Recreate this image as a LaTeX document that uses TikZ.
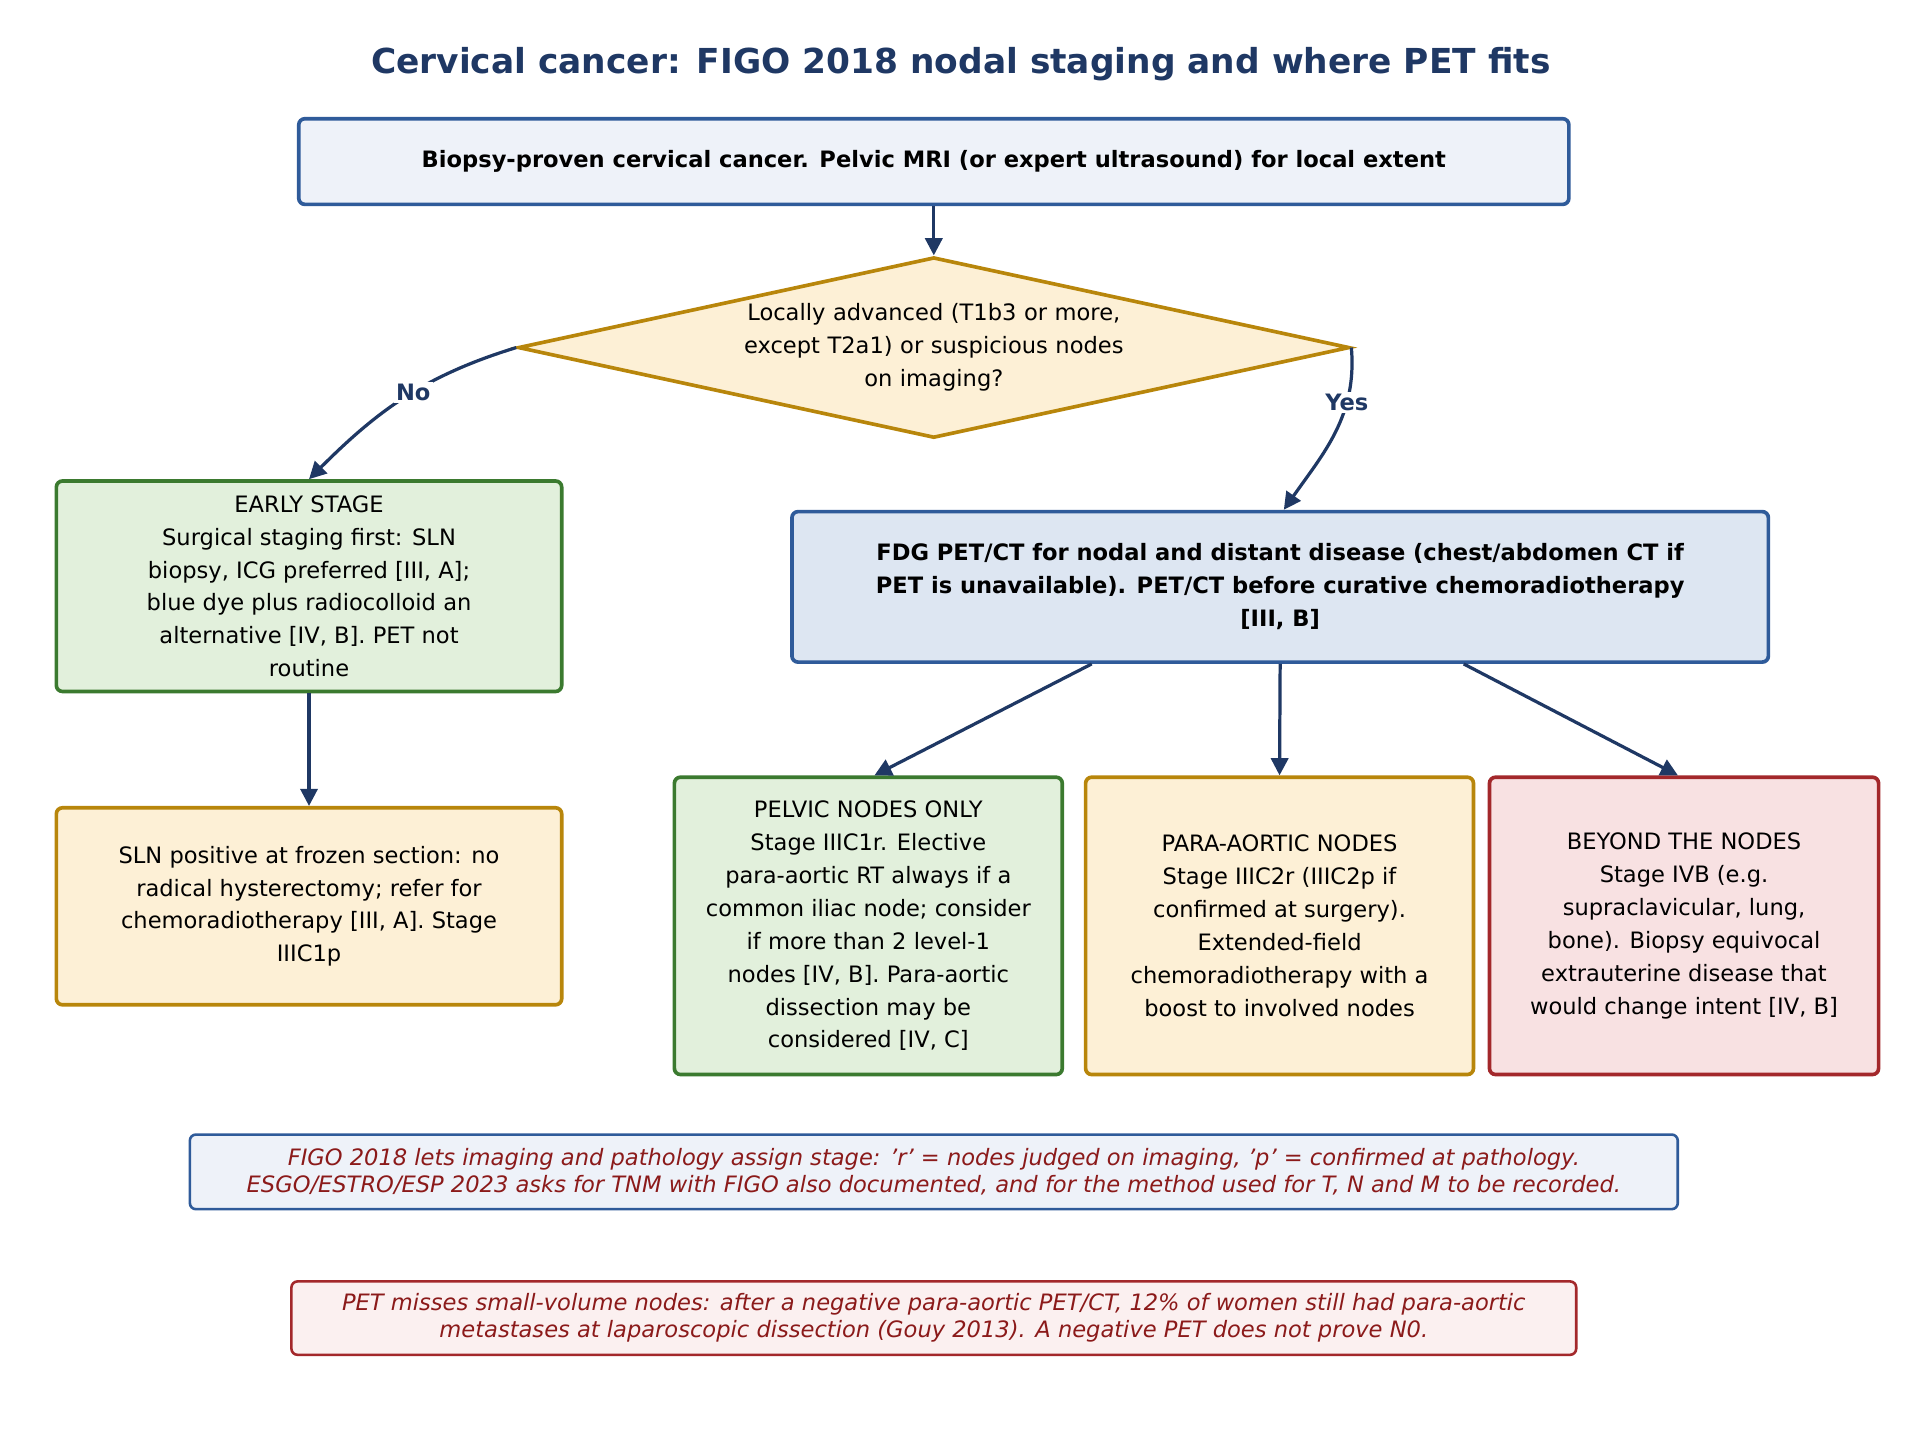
\documentclass[tikz,border=0pt]{standalone}
\usepackage{fontspec}
\setmainfont{DejaVu Sans}
\usetikzlibrary{shapes.geometric,arrows.meta}
\definecolor{navy}{HTML}{1F3864}
\definecolor{bluebd}{HTML}{2F5B9A}
\definecolor{bluefill}{HTML}{EEF2F9}
\definecolor{fdgfill}{HTML}{DDE6F2}
\definecolor{goldbd}{HTML}{B8860B}
\definecolor{goldfill}{HTML}{FDF0D6}
\definecolor{greenbd}{HTML}{3B7A2F}
\definecolor{greenfill}{HTML}{E2F0DC}
\definecolor{redbd}{HTML}{A3282B}
\definecolor{redfill}{HTML}{F8E1E2}
\definecolor{notefill}{HTML}{FBF0F0}
\definecolor{notetext}{HTML}{8B1A1A}
\tikzset{
  box/.style={draw, line width=1.7pt, rounded corners=0.1cm, align=center,
    font=\fontsize{10.5}{15.3}\selectfont, inner sep=0pt},
  bluebox/.style={box, draw=bluebd, fill=bluefill},
  greenbox/.style={box, draw=greenbd, fill=greenfill},
  goldbox/.style={box, draw=goldbd, fill=goldfill},
  redbox/.style={box, draw=redbd, fill=redfill},
  note/.style={draw, line width=1.2pt, rounded corners=0.1cm, align=center,
    text=notetext, font=\fontsize{10.5}{12.5}\selectfont\itshape},
  flow/.style={-{Triangle[length=8pt,width=8pt]}, line width=1.5pt, draw=navy},
  lbl/.style={fill=white, text=navy, font=\fontsize{10.5}{12}\selectfont\bfseries, inner sep=1pt}
}
\begin{document}
\begin{tikzpicture}[x=0.02cm,y=-0.02cm]
    \useasboundingbox (0,0) rectangle (1568,1171);

    % Title
    \node[text=navy, font=\fontsize{16}{19}\selectfont\bfseries] (title) at (785,52)
      {Cervical cancer: FIGO 2018 nodal staging and where PET fits};

    % Top box and decision
    \node[bluebox, minimum width=20.76cm, minimum height=1.4cm, font=\fontsize{10.5}{15.3}\selectfont\bfseries] (mri) at (763,132)
      {Biopsy-proven cervical cancer. Pelvic MRI (or expert ultrasound) for local extent};
    \node[diamond, aspect=4.6, draw=goldbd, fill=goldfill, line width=1.7pt, inner sep=0pt,
      text width=7cm, minimum height=1.4cm, align=center, font=\fontsize{10.5}{15.3}\selectfont] (adv) at (763,284)
      {Locally advanced (T1b3 or more,\\ except T2a1) or suspicious nodes\\ on imaging?};

    % Left branch
    \node[greenbox, minimum width=8.26cm, minimum height=3.44cm] (early) at (252.5,479)
      {EARLY STAGE\\ Surgical staging first: SLN\\ biopsy, ICG preferred [III, A];\\ blue dye plus radiocolloid an\\ alternative [IV, B]. PET not\\ routine};
    \node[goldbox, minimum width=8.26cm, minimum height=3.22cm] (sln) at (252.5,740.5)
      {SLN positive at frozen section: no\\ radical hysterectomy; refer for\\ chemoradiotherapy [III, A]. Stage\\ IIIC1p};

    % Right branch
    \node[box, draw=bluebd, fill=fdgfill, minimum width=15.96cm, minimum height=2.46cm, font=\fontsize{10.5}{15.3}\selectfont\bfseries] (pet) at (1046,479.5)
      {FDG PET/CT for nodal and distant disease (chest/abdomen CT if\\ PET is unavailable). PET/CT before curative chemoradiotherapy\\ {[III, B]}};
    \node[greenbox, minimum width=6.34cm, minimum height=4.86cm] (pelvic) at (709.5,756.5)
      {PELVIC NODES ONLY\\ Stage IIIC1r. Elective\\ para-aortic RT always if a\\ common iliac node; consider\\ if more than 2 level-1\\ nodes [IV, B]. Para-aortic\\ dissection may be\\ considered [IV, C]};
    \node[goldbox, minimum width=6.34cm, minimum height=4.86cm] (para) at (1045.5,756.5)
      {PARA-AORTIC NODES\\ Stage IIIC2r (IIIC2p if\\ confirmed at surgery).\\ Extended-field\\ chemoradiotherapy with a\\ boost to involved nodes};
    \node[redbox, minimum width=6.36cm, minimum height=4.86cm] (beyond) at (1376,756.5)
      {BEYOND THE NODES\\ Stage IVB (e.g.\\ supraclavicular, lung,\\ bone). Biopsy equivocal\\ extrauterine disease that\\ would change intent [IV, B]};

    % Notes
    \node[note, draw=bluebd, fill=bluefill, minimum width=24.32cm, minimum height=1.22cm] (figo) at (763,957.5)
      {FIGO 2018 lets imaging and pathology assign stage: 'r' = nodes judged on imaging, 'p' = confirmed at pathology.\\ ESGO/ESTRO/ESP 2023 asks for TNM with FIGO also documented, and for the method used for T, N and M to be recorded.};
    \node[note, draw=redbd, fill=notefill, minimum width=21cm, minimum height=1.2cm] (gouy) at (763,1077)
      {PET misses small-volume nodes: after a negative para-aortic PET/CT, 12\% of women still had para-aortic\\ metastases at laparoscopic dissection (Gouy 2013). A negative PET does not prove N0.};

    % Connectors
    \draw[flow] (mri) -- (adv);
    \draw[flow] (adv.west) to[out=197, in=45] node[lbl, pos=0.45] {No} (early.north);
    \draw[flow] (adv.east) to[out=-85, in=55] node[lbl, pos=0.3] {Yes} ([xshift=0.06cm]pet.north);
    \draw[flow] (early) -- (sln);
    \draw[flow] ([xshift=-3.08cm]pet.south) -- ([xshift=0.1cm]pelvic.north);
    \draw[flow] (pet.south) -- (para.north);
    \draw[flow] ([xshift=3cm]pet.south) -- ([xshift=-0.1cm]beyond.north);
\end{tikzpicture}
\end{document}
